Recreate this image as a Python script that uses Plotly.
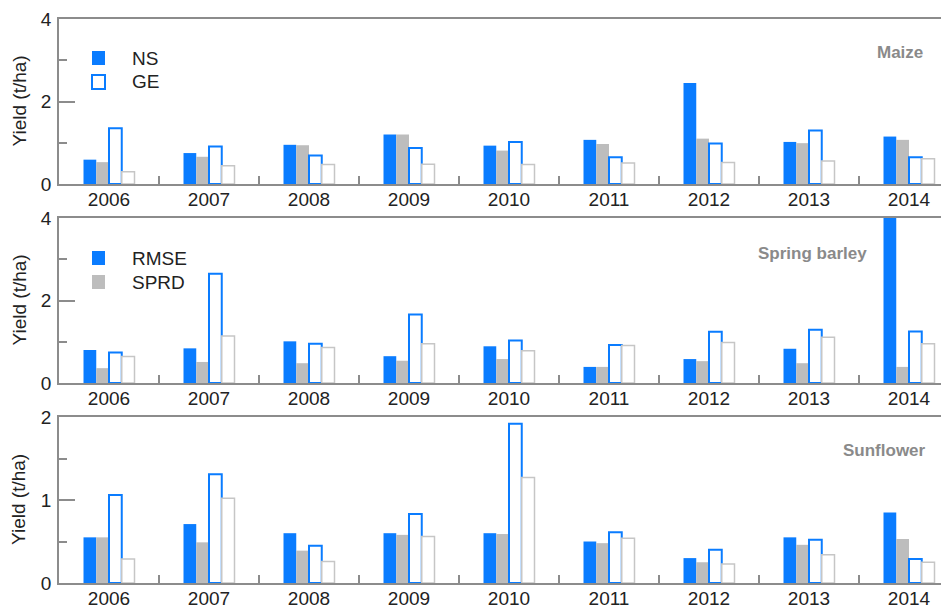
import plotly.graph_objects as go

years = ["2006", "2007", "2008", "2009", "2010", "2011", "2012", "2013", "2014"]

# Maize
maize_ns_rmse = [0.59, 0.75, 0.95, 1.20, 0.93, 1.07, 2.45, 1.02, 1.15]
maize_ns_sprd = [0.53, 0.66, 0.94, 1.20, 0.81, 0.97, 1.10, 0.99, 1.07]
maize_ge_rmse = [1.35, 0.91, 0.69, 0.87, 1.02, 0.65, 0.98, 1.30, 0.65]
maize_ge_sprd = [0.30, 0.44, 0.47, 0.48, 0.47, 0.51, 0.52, 0.56, 0.61]

# Spring barley
barley_ns_rmse = [0.80, 0.84, 1.01, 0.65, 0.89, 0.39, 0.58, 0.83, 4.60]
barley_ns_sprd = [0.36, 0.51, 0.48, 0.54, 0.58, 0.39, 0.53, 0.48, 0.39]
barley_ge_rmse = [0.74, 2.65, 0.95, 1.66, 1.03, 0.92, 1.24, 1.29, 1.25]
barley_ge_sprd = [0.64, 1.14, 0.86, 0.95, 0.78, 0.91, 0.98, 1.11, 0.95]

# Sunflower
sun_ns_rmse = [0.55, 0.71, 0.60, 0.60, 0.60, 0.50, 0.30, 0.55, 0.85]
sun_ns_sprd = [0.55, 0.49, 0.39, 0.58, 0.59, 0.48, 0.25, 0.46, 0.53]
sun_ge_rmse = [1.06, 1.31, 0.45, 0.83, 1.92, 0.61, 0.40, 0.52, 0.29]
sun_ge_sprd = [0.29, 1.02, 0.26, 0.56, 1.27, 0.54, 0.23, 0.34, 0.25]

crops = ["Maize", "Spring barley", "Sunflower"]
y_max = [4, 4, 2]
y_major = [[0, 2, 4], [0, 2, 4], [0, 1, 2]]
y_minor = [1, 1, 0.5]

panels = [
    (maize_ns_rmse, maize_ns_sprd, maize_ge_rmse, maize_ge_sprd),
    (barley_ns_rmse, barley_ns_sprd, barley_ge_rmse, barley_ge_sprd),
    (sun_ns_rmse, sun_ns_sprd, sun_ge_rmse, sun_ge_sprd),
]

# page body has an 8px margin: figure drawn at (8, 8) in the window
OFF = 8
W, H = 949 - OFF, 608 - OFF
ML = 59 - OFF
PW = W - ML

BLUE = "#0a7cff"
GRAY_FILL = "#bdbdbd"
GRAY_LINE = "#c6c6c6"
AXIS = "#8c8c8c"
TEXT = "#222222"
FONT = "Liberation Sans, Arial, Helvetica, sans-serif"

def px2x(px):
    return (px - OFF - ML) / PW

def px2y(py):
    return 1 - (py - OFF) / H

# panel pixel extents in window coordinates (top, bottom)
panel_px = [(19, 184), (218, 383), (417, 583)]

fig = go.Figure()

for i, (ns_r, ns_s, ge_r, ge_s) in enumerate(panels):
    xa = "x" if i == 0 else f"x{i+1}"
    ya = "y" if i == 0 else f"y{i+1}"
    common = dict(x=years, xaxis=xa, yaxis=ya, showlegend=False, hoverinfo="x+y")
    fig.add_trace(go.Bar(y=ns_r, marker=dict(color=BLUE, line=dict(width=0)), name="NS RMSE", **common))
    fig.add_trace(go.Bar(y=ns_s, marker=dict(color=GRAY_FILL, line=dict(width=0)), name="NS SPRD", **common))
    fig.add_trace(go.Bar(y=ge_r, marker=dict(color="white", line=dict(color=BLUE, width=2)), name="GE RMSE", **common))
    fig.add_trace(go.Bar(y=ge_s, marker=dict(color="white", line=dict(color=GRAY_LINE, width=1.5)), name="GE SPRD", **common))

layout = dict(
    width=W, height=H,
    margin=dict(l=ML, r=0, t=0, b=0, autoexpand=False),
    paper_bgcolor="white", plot_bgcolor="white",
    barmode="group", bargap=0.49, bargroupgap=0,
    font=dict(family=FONT, size=19, color=TEXT),
    showlegend=False,
)

annotations = []
shapes = []
for i in range(3):
    top, bot = panel_px[i]
    sfx = "" if i == 0 else str(i + 1)
    layout["xaxis" + sfx] = dict(
        domain=[0, 1], anchor="y" + sfx, type="category",
        range=[-0.5, 8.4], showline=True, linecolor=AXIS, linewidth=1.5,
        mirror=True, ticks="inside", tickson="boundaries", ticklen=8,
        tickcolor=AXIS, tickwidth=1.5, showgrid=False, zeroline=False,
        tickfont=dict(size=19, color=TEXT), automargin=False,
        ticklabelstandoff=-3,
    )
    layout["yaxis" + sfx] = dict(
        domain=[px2y(bot), px2y(top)], anchor="x" + sfx,
        range=[0, y_max[i]], tickvals=y_major[i], ticks="inside", ticklen=16,
        tickcolor=AXIS, tickwidth=1.5, showline=True, linecolor=AXIS, linewidth=1.5,
        showgrid=False, zeroline=False, tickfont=dict(size=19, color=TEXT),
        minor=dict(dtick=y_minor[i], ticks="inside", ticklen=8, tickcolor=AXIS, tickwidth=1.5, showgrid=False),
        automargin=False, ticklabelstandoff=2,
    )
    # right-side tick marks
    layout[f"yaxis{i+4}"] = dict(
        domain=[px2y(bot), px2y(top)], anchor="x" + sfx, overlaying="y" + sfx,
        side="right", range=[0, y_max[i]], tickvals=y_major[i], ticks="inside",
        ticklen=8, tickcolor=AXIS, tickwidth=1.5, showline=False,
        showticklabels=False, showgrid=False, zeroline=False,
        minor=dict(dtick=y_minor[i], ticks="inside", ticklen=4, tickcolor=AXIS, tickwidth=1.5, showgrid=False),
    )
    annotations.append(dict(
        text="Yield (t/ha)", textangle=-90, xref="paper", yref="paper",
        x=px2x(19), y=px2y((top + bot) / 2), xanchor="center", yanchor="middle",
        showarrow=False, font=dict(size=19, color=TEXT),
    ))

# crop labels
crop_pos = [(925, 52), (869, 254), (928, 450)]
for name, (rx, cy) in zip(crops, crop_pos):
    annotations.append(dict(
        text="<b>" + name + "</b>", xref="paper", yref="paper",
        x=px2x(rx), y=px2y(cy), xanchor="right", yanchor="middle",
        showarrow=False, font=dict(size=17, color="#8a8a8a"),
    ))

# legends
legend_items = [
    ("NS", 51, 65, BLUE, BLUE, 0),
    ("GE", 75, 89, "white", BLUE, 2),
    ("RMSE", 251, 265, BLUE, BLUE, 0),
    ("SPRD", 275, 289, GRAY_FILL, GRAY_FILL, 0),
]
for label, y0, y1, fill, line, lw in legend_items:
    shapes.append(dict(
        type="rect", xref="paper", yref="paper",
        x0=px2x(92), x1=px2x(105), y0=px2y(y1), y1=px2y(y0),
        fillcolor=fill, line=dict(color=line, width=lw),
    ))
    annotations.append(dict(
        text=label, xref="paper", yref="paper", x=px2x(130), y=px2y((y0 + y1) / 2),
        xanchor="left", yanchor="middle", showarrow=False,
        font=dict(size=19, color=TEXT),
    ))

layout["annotations"] = annotations
layout["shapes"] = shapes
fig.update_layout(**layout)

fig.write_html("out.html")
